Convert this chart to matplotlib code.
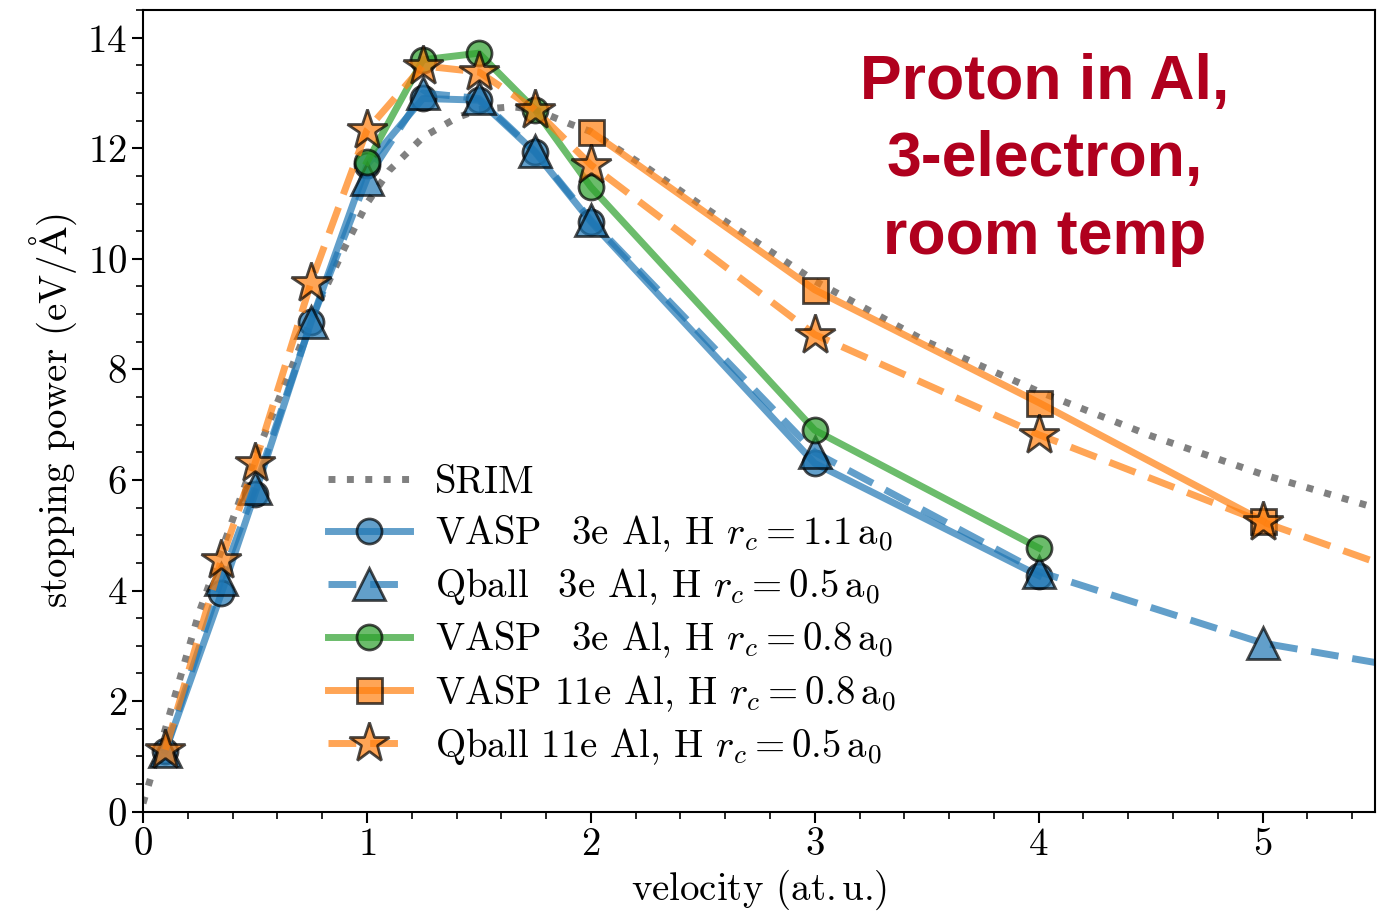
import matplotlib
matplotlib.use("Agg")
import matplotlib.pyplot as plt
from matplotlib.ticker import MultipleLocator

plt.rcParams['font.family'] = 'serif'
plt.rcParams['font.serif'] = ['cmr10']
plt.rcParams['mathtext.fontset'] = 'cm'
plt.rcParams['axes.unicode_minus'] = False
plt.rcParams['axes.formatter.use_mathtext'] = True

# ---- data ----
srim_v = [0.0, 0.1, 0.25, 0.5, 0.75, 0.9, 1.0, 1.1, 1.25, 1.4, 1.5, 1.65, 1.75, 1.9, 2.0, 2.25,
          2.5, 3.0, 3.5, 4.0, 4.5, 5.0, 5.5]
srim_s = [0.15, 1.5, 3.6, 6.4, 8.9, 10.2, 11.0, 11.6, 12.2, 12.55, 12.7, 12.75, 12.7, 12.45, 12.3, 11.65,
          10.95, 9.6, 8.5, 7.6, 6.8, 6.1, 5.5]

vasp3_11_v = [0.1, 0.35, 0.5, 0.75, 1.0, 1.25, 1.5, 1.75, 2.0, 3.0, 4.0]
vasp3_11_s = [1.1, 3.95, 5.75, 8.85, 11.7, 12.9, 12.87, 11.93, 10.67, 6.3, 4.27]

qball3_05_v = [0.1, 0.35, 0.5, 0.75, 1.0, 1.25, 1.5, 1.75, 2.0, 3.0, 4.0, 5.0, 6.0]
qball3_05_s = [1.1, 4.2, 5.85, 8.85, 11.45, 13.0, 12.9, 11.95, 10.7, 6.5, 4.34, 3.05, 2.35]

vasp3_08_v = [1.0, 1.25, 1.5, 1.75, 2.0, 3.0, 4.0]
vasp3_08_s = [11.75, 13.6, 13.72, 12.7, 11.3, 6.9, 4.77]

vasp11_08_v = [2.0, 3.0, 4.0, 5.0]
vasp11_08_s = [12.3, 9.44, 7.4, 5.26]

qball11_05_v = [0.1, 0.35, 0.5, 0.75, 1.0, 1.25, 1.5, 1.75, 2.0, 3.0, 4.0, 5.0, 6.0]
qball11_05_s = [1.12, 4.56, 6.3, 9.57, 12.33, 13.49, 13.38, 12.7, 11.7, 8.63, 6.82, 5.24, 3.8]

labels = ["SRIM",
          r"VASP$\enspace$ 3e Al, H $r_c = 1.1\,\mathrm{a}_0$",
          r"Qball$\enspace$ 3e Al, H $r_c = 0.5\,\mathrm{a}_0$",
          r"VASP$\enspace$ 3e Al, H $r_c = 0.8\,\mathrm{a}_0$",
          r"VASP 11e Al, H $r_c = 0.8\,\mathrm{a}_0$",
          r"Qball 11e Al, H $r_c = 0.5\,\mathrm{a}_0$"]

blue = '#1f77b4'
green = '#2ca02c'
orange = '#ff7f0e'

fig = plt.figure(figsize=(13.78, 9.13), dpi=100)
ax = fig.add_axes([0.1038, 0.111, 0.8937, 0.878])

lw = 5
ms = 18
al = 0.7
ax.plot(srim_v, srim_s, ':', color='gray', lw=lw, label=labels[0])
ax.plot(vasp3_11_v, vasp3_11_s, '-', color=blue, lw=lw, alpha=al, marker='o', ms=ms,
        mec='black', mew=2, label=labels[1])
ax.plot(qball3_05_v, qball3_05_s, '--', color=blue, lw=lw, alpha=al, marker='^', ms=ms+5,
        mec='black', mew=2, label=labels[2], dashes=(4, 2))
ax.plot(vasp3_08_v, vasp3_08_s, '-', color=green, lw=lw, alpha=al, marker='o', ms=ms,
        mec='black', mew=2, label=labels[3])
ax.plot(vasp11_08_v, vasp11_08_s, '-', color=orange, lw=lw, alpha=al, marker='s', ms=ms,
        mec='black', mew=2, label=labels[4])
ax.plot(qball11_05_v, qball11_05_s, '--', color=orange, lw=lw, alpha=al, marker='*', ms=ms+12,
        mec='black', mew=2, label=labels[5], dashes=(4, 2))

ax.set_xlim(0, 5.5)
ax.set_ylim(0, 14.5)
ax.xaxis.set_major_locator(MultipleLocator(1))
ax.xaxis.set_minor_locator(MultipleLocator(0.2))
ax.yaxis.set_major_locator(MultipleLocator(2))
ax.yaxis.set_minor_locator(MultipleLocator(0.5))
ax.tick_params(which='major', length=8, width=1.5, labelsize=28)
ax.tick_params(which='minor', length=5, width=1.2)
for s in ax.spines.values():
    s.set_linewidth(1.5)

ax.set_xlabel(r"velocity (at.$\,$u.)", fontsize=28, labelpad=3)
ax.set_ylabel(r"stopping power (eV/$\mathrm{\AA}$)", fontsize=28, labelpad=6)

leg = ax.legend(loc='lower left', bbox_to_anchor=(0.122, 0.012), frameon=False, fontsize=28,
                handlelength=2.1, labelspacing=0.32, handletextpad=0.65)

ax.text(0.732, 0.813, "Proton in Al,\n3-electron,\nroom temp", transform=ax.transAxes,
        ha='center', va='center', fontsize=45, fontweight='bold', color='#b0001e',
        family='Liberation Sans', linespacing=1.4)

fig.savefig("out.png", dpi=100)
